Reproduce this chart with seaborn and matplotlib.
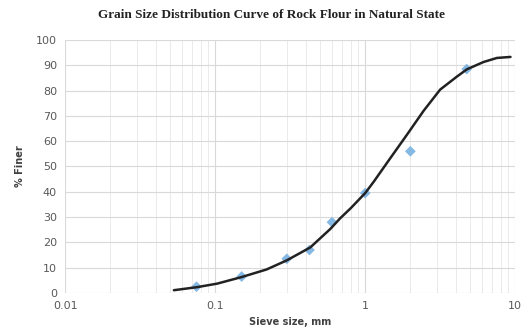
import matplotlib
matplotlib.use("Agg")
import matplotlib.pyplot as plt
import matplotlib.ticker as mticker
import seaborn as sns
import pandas as pd

# sieve test points
sieve_mm = [0.075, 0.15, 0.3, 0.425, 0.6, 1.0, 2.0, 4.75]
pct_finer = [2.5, 6.5, 13.5, 17, 28, 39.5, 56, 88.5]

# fitted curve
curve_mm = [0.053, 0.0755, 0.103, 0.15, 0.22, 0.30, 0.43, 0.585, 0.68, 0.8, 1.0, 1.14,
            1.47, 1.9, 2.45, 3.16, 4.08, 4.76, 6.15, 7.55, 9.3]
curve_pct = [1.1, 2.3, 3.7, 6.3, 9.3, 12.9, 18.0, 25.3, 29.5, 33.5, 39.5, 44.0,
             53.3, 62.6, 72.0, 80.4, 85.5, 88.4, 91.3, 92.9, 93.3]

pts = pd.DataFrame({"size": sieve_mm, "finer": pct_finer})
crv = pd.DataFrame({"size": curve_mm, "finer": curve_pct})

sns.set_theme(style="whitegrid")
fig = plt.figure(figsize=(5.22, 3.36), dpi=100)
ax = fig.add_axes([0.125, 0.128, 0.862, 0.753])

sns.scatterplot(data=pts, x="size", y="finer", marker="D", s=30, color="#85b8e3",
                edgecolor="none", ax=ax, zorder=2)
sns.lineplot(data=crv, x="size", y="finer", color="#222222", lw=1.8, ax=ax, zorder=3)

ax.set_xscale("log")
ax.set_xlim(0.01, 10)
ax.set_ylim(0, 100)
ax.set_yticks(range(0, 101, 10))
ax.xaxis.set_major_formatter(mticker.FuncFormatter(lambda v, p: "%g" % v))
ax.xaxis.set_minor_locator(mticker.LogLocator(base=10, subs=range(2, 10)))
ax.grid(which="major", color="#d9d9d9", lw=0.8)
ax.grid(which="minor", axis="x", color="#e6e6e6", lw=0.6)
for s in ax.spines.values():
    s.set_visible(False)
ax.tick_params(labelsize=8, colors="#595959", length=0, pad=6)

ax.set_xlabel("Sieve size, mm", fontsize=7, fontweight="bold", color="#404040", labelpad=4)
ax.set_ylabel("% Finer", fontsize=7, fontweight="bold", color="#404040", labelpad=8)
fig.text(0.52, 0.955, "Grain Size Distribution Curve of Rock Flour in Natural State",
         ha="center", va="center", fontsize=9.5, fontweight="bold",
         family="Liberation Serif", color="#222222")

fig.savefig("out.png", dpi=100)
